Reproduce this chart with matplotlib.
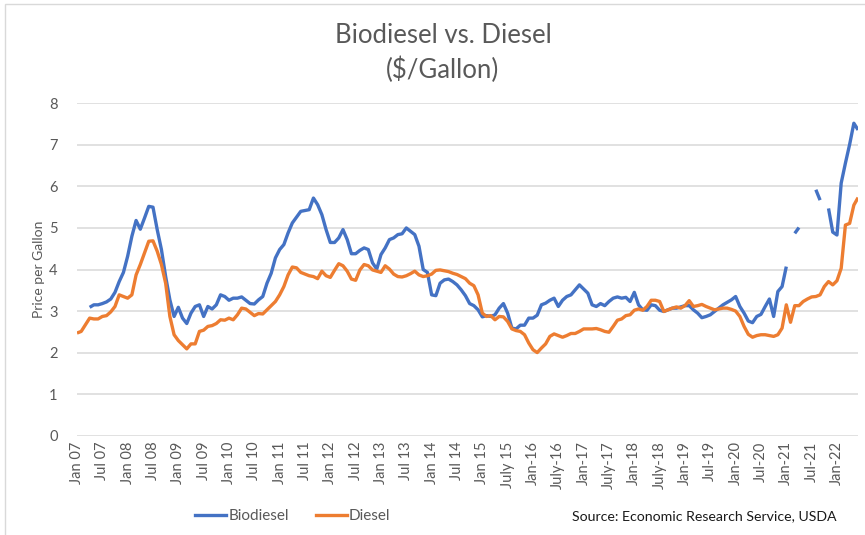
#!/usr/bin/env python3
"""Biodiesel vs. Diesel monthly prices, Jan 2007 - Jun 2022."""
import matplotlib
matplotlib.use("Agg")
import matplotlib.pyplot as plt
from matplotlib.lines import Line2D
from matplotlib.patches import Rectangle
import numpy as np

nan = np.nan

# monthly $/gallon, Jan 2007 .. Jun 2022 (one row per year)
diesel = [
    2.47, 2.51, 2.67, 2.83, 2.81, 2.81, 2.87, 2.89, 2.98, 3.11, 3.39, 3.35,  # 2007
    3.31, 3.39, 3.87, 4.12, 4.40, 4.68, 4.69, 4.44, 4.12, 3.67, 2.87, 2.43,  # 2008
    2.29, 2.19, 2.09, 2.21, 2.21, 2.51, 2.54, 2.63, 2.65, 2.70, 2.79, 2.78,  # 2009
    2.83, 2.79, 2.91, 3.07, 3.05, 2.97, 2.89, 2.94, 2.93, 3.03, 3.13, 3.23,  # 2010
    3.39, 3.59, 3.87, 4.06, 4.04, 3.93, 3.89, 3.85, 3.83, 3.78, 3.96, 3.85,  # 2011
    3.81, 3.98, 4.14, 4.09, 3.96, 3.77, 3.74, 3.99, 4.12, 4.09, 3.99, 3.96,  # 2012
    3.93, 4.09, 4.01, 3.89, 3.83, 3.82, 3.85, 3.90, 3.96, 3.87, 3.83, 3.85,  # 2013
    3.89, 3.98, 3.99, 3.97, 3.95, 3.91, 3.88, 3.83, 3.78, 3.67, 3.61, 3.39,  # 2014
    2.95, 2.87, 2.89, 2.79, 2.87, 2.86, 2.75, 2.57, 2.53, 2.51, 2.43, 2.23,  # 2015
    2.07, 2.00, 2.11, 2.21, 2.39, 2.45, 2.41, 2.37, 2.41, 2.46, 2.46, 2.51,  # 2016
    2.57, 2.57, 2.57, 2.58, 2.55, 2.51, 2.49, 2.63, 2.78, 2.81, 2.89, 2.91,  # 2017
    3.02, 3.05, 3.02, 3.11, 3.26, 3.26, 3.23, 2.99, 3.03, 3.07, 3.10, 3.07,  # 2018
    3.13, 3.25, 3.11, 3.13, 3.16, 3.11, 3.07, 3.03, 3.05, 3.07, 3.07, 3.04,  # 2019
    3.00, 2.87, 2.63, 2.44, 2.37, 2.41, 2.43, 2.43, 2.41, 2.39, 2.43, 2.59,  # 2020
    3.15, 2.73, 3.13, 3.13, 3.23, 3.29, 3.34, 3.35, 3.39, 3.59, 3.71, 3.63,  # 2021
    3.73, 4.03, 5.07, 5.11, 5.55, 5.73,                                      # 2022
]

biodiesel = [
    nan, nan, nan, 3.09, 3.15, 3.15, 3.18, 3.22, 3.29, 3.45, 3.71, 3.93,     # 2007
    4.32, 4.80, 5.18, 4.97, 5.24, 5.52, 5.50, 4.96, 4.48, 3.83, 3.27, 2.87,  # 2008
    3.09, 2.83, 2.70, 2.95, 3.11, 3.15, 2.87, 3.11, 3.05, 3.15, 3.39, 3.35,  # 2009
    3.26, 3.31, 3.31, 3.34, 3.26, 3.18, 3.17, 3.27, 3.35, 3.67, 3.91, 4.28,  # 2010
    4.48, 4.60, 4.88, 5.12, 5.26, 5.40, 5.42, 5.44, 5.72, 5.56, 5.32, 4.96,  # 2011
    4.65, 4.65, 4.76, 4.96, 4.72, 4.38, 4.38, 4.46, 4.52, 4.48, 4.16, 4.01,  # 2012
    4.36, 4.52, 4.72, 4.76, 4.84, 4.86, 5.00, 4.92, 4.84, 4.56, 4.00, 3.93,  # 2013
    3.39, 3.37, 3.67, 3.75, 3.77, 3.71, 3.63, 3.51, 3.37, 3.18, 3.13, 3.03,  # 2014
    2.86, 2.89, 2.87, 2.91, 3.07, 3.18, 2.95, 2.59, 2.57, 2.66, 2.66, 2.83,  # 2015
    2.83, 2.90, 3.15, 3.19, 3.26, 3.31, 3.11, 3.26, 3.35, 3.39, 3.51, 3.63,  # 2016
    3.53, 3.43, 3.15, 3.11, 3.18, 3.13, 3.23, 3.31, 3.34, 3.31, 3.33, 3.23,  # 2017
    3.45, 3.15, 3.03, 3.02, 3.15, 3.13, 3.02, 2.99, 3.03, 3.07, 3.07, 3.10,  # 2018
    3.13, 3.13, 3.03, 2.95, 2.84, 2.87, 2.91, 2.99, 3.07, 3.15, 3.21, 3.27,  # 2019
    3.35, 3.11, 2.95, 2.76, 2.72, 2.87, 2.92, 3.11, 3.29, 2.87, 3.47, 3.59,  # 2020
    4.07, nan, 4.87, 5.01, nan, nan, nan, 5.92, 5.67, nan, 5.47, 4.90,       # 2021
    4.83, 6.08, 6.56, 7.01, 7.52, 7.36,                                      # 2022
]

tick_labels = [
    "Jan 07", "Jul 07", "Jan 08", "Jul 08", "Jan 09", "Jul 09", "Jan 10",
    "Jul 10", "Jan 11", "Jul 11", "Jan 12", "Jul 12", "Jan 13", "Jul 13",
    "Jan 14", "Jul 14", "Jan 15", "July 15", "Jan-16", "July-16", "Jan-17",
    "July-17", "Jan-18", "July-18", "Jan-19", "Jul-19", "Jan-20", "Jul-20",
    "Jan-21", "Jul-21", "Jan-22",
]

FONT = ["Lato", "DejaVu Sans"]
GRAY = "#595959"
BLUE = "#4472C4"
ORANGE = "#ED7D31"

plt.rcParams["font.family"] = FONT

fig = plt.figure(figsize=(8.65, 5.35), dpi=100)
fig.patches.append(Rectangle((0.006, -0.05), 1.1, 1.0425, transform=fig.transFigure,
                             fill=False, edgecolor="#d9d9d9", linewidth=1.0))

ax = fig.add_axes([0.089, 0.1856, 0.903, 0.6213])
months = np.arange(len(diesel))

ax.plot(months, biodiesel, color=BLUE, linewidth=2.4, solid_capstyle="butt", label="Biodiesel")
ax.plot(months, diesel, color=ORANGE, linewidth=2.4, solid_capstyle="butt", label="Diesel")

ax.set_xlim(0, len(diesel) - 1)
ax.set_ylim(0, 8)
ax.set_yticks(range(0, 9))
ax.set_xticks(range(0, len(diesel), 6))
ax.set_xticklabels(tick_labels, rotation=90)
ax.tick_params(axis="both", length=0, labelsize=10.5, labelcolor=GRAY)
ax.tick_params(axis="y", pad=14)
ax.tick_params(axis="x", pad=4)
ax.grid(axis="y", color="#d9d9d9", linewidth=1.1)
ax.set_axisbelow(True)
for s in ax.spines.values():
    s.set_visible(False)

ax.set_ylabel("Price per Gallon", fontsize=10, color=GRAY, labelpad=3)

fig.text(0.512, 0.934, "Biodiesel vs. Diesel", ha="center", va="center",
         fontsize=18.5, color=GRAY)
fig.text(0.512, 0.869, "($/Gallon)", ha="center", va="center",
         fontsize=18.5, color=GRAY)

handles = [Line2D([], [], color=BLUE, linewidth=2.4),
           Line2D([], [], color=ORANGE, linewidth=2.4)]
fig.legend(handles, ["Biodiesel", "Diesel"], loc="center", ncol=2,
           bbox_to_anchor=(293 / 865, (535 - 516) / 535), frameon=False,
           fontsize=11, labelcolor=GRAY, handlelength=2.0, handletextpad=0.15,
           columnspacing=1.8)

fig.text(837 / 865, (535 - 516) / 535, "Source: Economic Research Service, USDA",
         ha="right", va="center", fontsize=10.2, color="#1a1a1a")

fig.savefig("out.png", dpi=100)
